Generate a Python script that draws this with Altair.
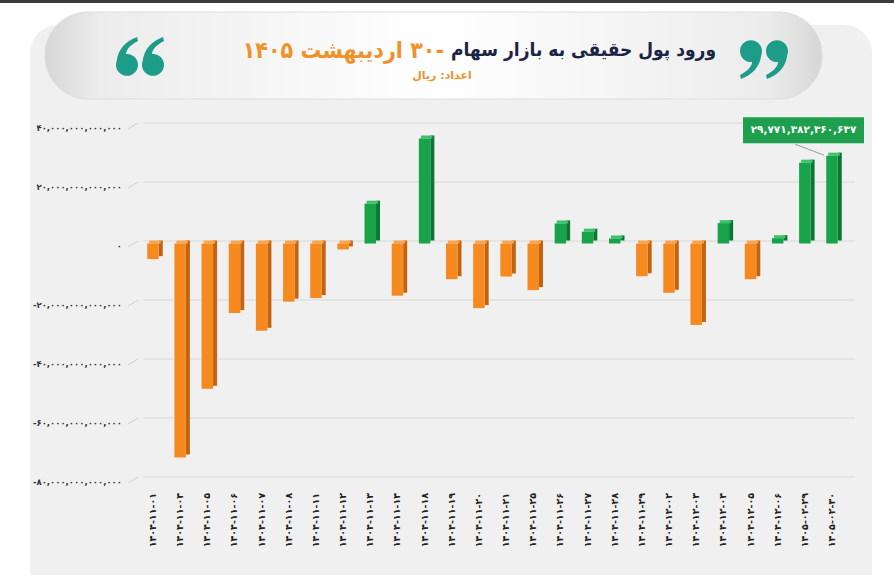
import altair as alt
import pandas as pd

# ---------------- data ----------------
dates = ["۱۴۰۴-۱۱-۰۱", "۱۴۰۴-۱۱-۰۴", "۱۴۰۴-۱۱-۰۵", "۱۴۰۴-۱۱-۰۶", "۱۴۰۴-۱۱-۰۷",
         "۱۴۰۴-۱۱-۰۸", "۱۴۰۴-۱۱-۱۱", "۱۴۰۴-۱۱-۱۲", "۱۴۰۴-۱۱-۱۳", "۱۴۰۴-۱۱-۱۴",
         "۱۴۰۴-۱۱-۱۸", "۱۴۰۴-۱۱-۱۹", "۱۴۰۴-۱۱-۲۰", "۱۴۰۴-۱۱-۲۱", "۱۴۰۴-۱۱-۲۵",
         "۱۴۰۴-۱۱-۲۶", "۱۴۰۴-۱۱-۲۷", "۱۴۰۴-۱۱-۲۸", "۱۴۰۴-۱۱-۲۹", "۱۴۰۴-۱۲-۰۲",
         "۱۴۰۴-۱۲-۰۳", "۱۴۰۴-۱۲-۰۴", "۱۴۰۴-۱۲-۰۵", "۱۴۰۴-۱۲-۰۶", "۱۴۰۵-۰۲-۲۹",
         "۱۴۰۵-۰۲-۳۰"]
values = [-5.3e12, -72.5e12, -49.2e12, -23.6e12, -29.6e12,
          -19.7e12, -18.5e12, -2.0e12, 13.5e12, -17.7e12,
          35.6e12, -12.1e12, -21.9e12, -11.2e12, -15.8e12,
          6.8e12, 4.0e12, 1.7e12, -11.1e12, -16.7e12,
          -27.6e12, 6.9e12, -12.1e12, 1.8e12, 27.4e12,
          29771382360637]
y_ticks = [40000000000000, 20000000000000, 0, -20000000000000,
           -40000000000000, -60000000000000, -80000000000000]
y_tick_labels = ["۴۰,۰۰۰,۰۰۰,۰۰۰,۰۰۰", "۲۰,۰۰۰,۰۰۰,۰۰۰,۰۰۰", "۰",
                 "-۲۰,۰۰۰,۰۰۰,۰۰۰,۰۰۰", "-۴۰,۰۰۰,۰۰۰,۰۰۰,۰۰۰",
                 "-۶۰,۰۰۰,۰۰۰,۰۰۰,۰۰۰", "-۸۰,۰۰۰,۰۰۰,۰۰۰,۰۰۰"]
title_main = "ورود پول حقیقی به بازار سهام"
title_date = "\u202b-۳۰ اردیبهشت ۱۴۰۵\u202c"
subtitle = "\u202bاعداد: ریال\u202c"
ann_date = dates[-1]
ann_value = values[-1]
ann_label = "۲۹,۷۷۱,۳۸۲,۳۶۰,۶۳۷"

# ---------------- style ----------------
FONT = "DejaVu Sans"
TITLE_FONT = "DejaVu Sans Condensed"
ORANGE, ORANGE_SIDE, ORANGE_CAP = "#f68a1e", "#c2630f", "#f9a54f"
GREEN, GREEN_SIDE, GREEN_CAP = "#18a34a", "#0c7634", "#3dc36b"
TEAL = "#1d9c8a"
NAVY = "#1b2444"
TITLE_ORANGE = "#f0922b"

df = pd.DataFrame({"date": dates, "value": values})
grid_df = pd.DataFrame({"tick": y_ticks, "label": y_tick_labels})
ann_df = pd.DataFrame({"date": [ann_date], "value": [ann_value], "label": [ann_label]})
one = pd.DataFrame({"k": [0]})

x_scale = alt.Scale(range=[0, 705], paddingInner=0.577, paddingOuter=0.267)
y_scale = alt.Scale(domain=[-80e12, 40e12], nice=False, zero=False)


def xe():
    return alt.X("date:N", sort=None, scale=x_scale, axis=None)


def ye(field):
    return alt.Y(field, scale=y_scale, axis=None)

# ---------------- decorations ----------------
strip = alt.Chart(one).mark_rect(color="#3b3b3b").encode(
    x=alt.value(-140), x2=alt.value(754), y=alt.value(-123), y2=alt.value(-120))
panel = alt.Chart(one).mark_rect(color="#f0f0f0", cornerRadius=28).encode(
    x=alt.value(-110), x2=alt.value(732), y=alt.value(-98), y2=alt.value(480))
pill_grad = alt.LinearGradient(
    gradient="linear", x1=0, x2=1, y1=0, y2=0,
    stops=[alt.GradientStop(color="#d6d6d6", offset=0),
           alt.GradientStop(color="#ececec", offset=0.07),
           alt.GradientStop(color="#ffffff", offset=0.5),
           alt.GradientStop(color="#ececec", offset=0.93),
           alt.GradientStop(color="#d6d6d6", offset=1)])
pill = alt.Chart(one).mark_rect(color=pill_grad, cornerRadius=43, stroke="#dedede",
                                strokeWidth=1).encode(
    x=alt.value(-95), x2=alt.value(682), y=alt.value(-111), y2=alt.value(-24))

t_main = alt.Chart(one).mark_text(text=title_main, font=TITLE_FONT, fontSize=19,
                                  fontWeight="bold", color=NAVY, align="right",
                                  baseline="middle").encode(
    x=alt.value(576), y=alt.value(-73))
t_date = alt.Chart(one).mark_text(text=title_date, font=TITLE_FONT, fontSize=23,
                                  fontWeight="bold", color=TITLE_ORANGE, align="right",
                                  baseline="middle").encode(
    x=alt.value(304), y=alt.value(-72))
t_sub = alt.Chart(one).mark_text(text=subtitle, font=FONT, fontSize=11, fontWeight="bold",
                                 color=TITLE_ORANGE, align="center", baseline="middle").encode(
    x=alt.value(302), y=alt.value(-47))


def six(ox, oy, sgn):
    def p(x, y):
        return f"{ox + sgn * x:.1f},{oy + sgn * y:.1f}"
    return (f"M{p(11, 8)} A11,11 0 1 1 {p(-10.3, 4)} C{p(-9, -8)} {p(-1, -16)} {p(10, -20)} "
            f"L{p(11, -16)} C{p(3, -12)} {p(-1, -7)} {p(-1, -3)} A11,11 0 0 1 {p(11, 8)} Z ")

q_left = alt.Chart(one).mark_point(shape=six(-13, 0, 1) + six(13, 0, 1), size=4, filled=True,
                                   color=TEAL, opacity=1, strokeWidth=0).encode(
    x=alt.value(0), y=alt.value(-66))
q_right = alt.Chart(one).mark_point(shape=six(-13, 0, -1) + six(13, 0, -1), size=4, filled=True,
                                    color=TEAL, opacity=1, strokeWidth=0).encode(
    x=alt.value(624), y=alt.value(-64))

# ---------------- chart ----------------
grid = alt.Chart(grid_df).mark_rule(color="#d8d8d8", strokeWidth=1.2).encode(
    y=ye("tick:Q"), x=alt.value(3), x2=alt.value(715))
yticks = alt.Chart(grid_df).mark_rule(color="#cfcfcf", strokeWidth=1, yOffset=6,
                                      y2Offset=0).encode(
    y=ye("tick:Q"), y2=alt.Y2("tick:Q"), x=alt.value(-12), x2=alt.value(-2))
ylabels = alt.Chart(grid_df).mark_text(align="right", baseline="middle", dy=5, font=FONT,
                                       fontSize=8.5, fontWeight="bold", color="#333333").encode(
    y=ye("tick:Q"), x=alt.value(-18), text="label:N")

base = alt.Chart(df)
side = base.mark_bar(width=4, xOffset=7.75, yOffset=-0.5, y2Offset=-0.5).encode(
    x=xe(), y=ye("value:Q"), y2=alt.datum(0),
    color=alt.condition("datum.value > 0", alt.value(GREEN_SIDE), alt.value(ORANGE_SIDE)))
cap = base.transform_calculate(top="max(datum.value, 0)").mark_bar(
    xOffset=2, yOffset=-0.5, y2Offset=2.5).encode(
    x=xe(), y=ye("top:Q"), y2=alt.Y2("top:Q"),
    color=alt.condition("datum.value > 0", alt.value(GREEN_CAP), alt.value(ORANGE_CAP)))
front = base.mark_bar(yOffset=2.5, y2Offset=2.5).encode(
    x=xe(), y=ye("value:Q"), y2=alt.datum(0),
    color=alt.condition("datum.value > 0", alt.value(GREEN), alt.value(ORANGE)),
    tooltip=["date:N", "value:Q"])
xlabels = base.mark_text(angle=270, align="right", baseline="middle", font=FONT, fontSize=9.5,
                         fontWeight="bold", color="#222222").encode(
    x=xe(), y=alt.value(370), text="date:N")

ann = alt.Chart(ann_df)
ann_line = ann.mark_point(shape="M-37,-9L-8,2", size=4, filled=False, color="#9a9a9a",
                          opacity=1, strokeWidth=1).encode(x=xe(), y=ye("value:Q"))
ann_box = ann.mark_point(shape="M-89,-36H32V-10H-89Z", size=4, filled=True, color="#1e9f4e",
                         opacity=1, strokeWidth=0).encode(x=xe(), y=ye("value:Q"))
ann_text = ann.mark_text(dx=-28.5, dy=-23, font=FONT, fontSize=10.5, fontWeight="bold",
                         color="white", align="center", baseline="middle").encode(
    x=xe(), y=ye("value:Q"), text="label:N")

chart = alt.layer(
    strip, panel, pill, q_left, q_right, t_main, t_date, t_sub,
    grid, yticks, ylabels, side, cap, front, xlabels, ann_line, ann_box, ann_text
).properties(
    width=715, height=354,
    padding={"left": 140, "top": 123, "right": 39, "bottom": 98},
    autosize=alt.AutoSizeParams(type="none"),
    background="white",
).configure_view(stroke=None)

chart.save("out.html", embed_options={"renderer": "svg", "actions": False})
